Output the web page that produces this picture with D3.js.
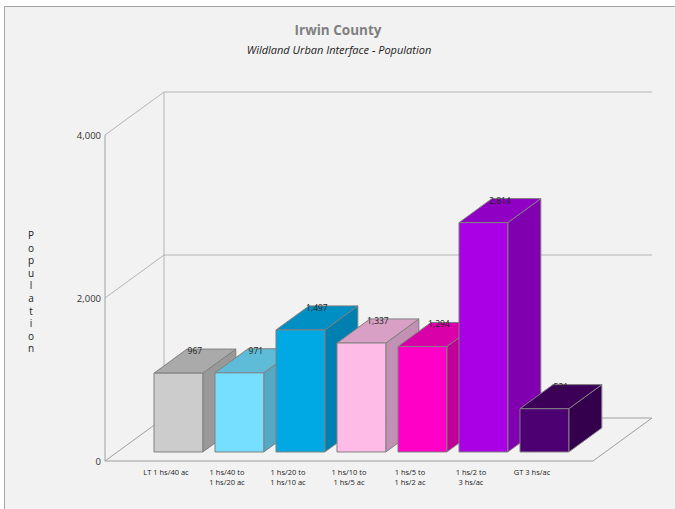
<!DOCTYPE html>
<html>
<head>
<meta charset="utf-8">
<script src="https://cdn.jsdelivr.net/npm/d3@7"></script>
<style>
  body { margin: 0; background: #fff; }
  svg { display: block; font-family: "Open Sans", "Noto Sans", sans-serif; }
</style>
</head>
<body>
<svg id="chart" width="675" height="509"></svg>
<script>
'use strict'

const categories = ['LT 1 hs/40 ac', '1 hs/40 to|1 hs/20 ac', '1 hs/20 to|1 hs/10 ac',
  '1 hs/10 to|1 hs/5 ac', '1 hs/5 to|1 hs/2 ac', '1 hs/2 to|3 hs/ac', 'GT 3 hs/ac']
const population = [967, 971, 1497, 1337, 1294, 2814, 531]
const valueLabels = ['967', '971', '1,497', '1,337', '1,294', '2,814', '531']
const yTicks = [0, 2000, 4000]
const tickLabels = ['0', '2,000', '4,000']
// front, top, side colours per bar
const frontColors = ['#cccccc', '#76defe', '#00a8e4', '#ffbbe7', '#ff00c6', '#a900e6', '#4c0072']
const topColors = ['#aaaaaa', '#5fbcd8', '#008fc3', '#d9a0c6', '#da00a9', '#9000c4', '#3c0059']
const sideColors = ['#999999', '#55a9c4', '#0080b0', '#c290b3', '#c10097', '#8000b0', '#34004e']

const svg = d3.select('#chart')

// frame
svg.append('rect').attr('x', 4.5).attr('y', 6.5).attr('width', 680).attr('height', 520)
  .attr('fill', '#f2f2f2').attr('stroke', '#a6a6a6')

// projection: depth offset for the back wall
const DX = 59
const DY = -43
const x = d3.scaleBand().domain(categories).range([105, 593]).paddingInner(0.2).paddingOuter(0.6)
const y = d3.scaleLinear().domain([0, 4000]).range([461, 135])
const proj = (px, v, f) => [px + DX * f, y(v) + DY * f]
const line = d3.line()

const grid = svg.append('g').attr('fill', 'none')
// back wall gridlines and left wall diagonals
yTicks.forEach(t => {
  grid.append('path').attr('d', line([proj(105, t, 0), proj(105, t, 1), proj(593, t, 1)]))
    .attr('stroke', t === 0 ? '#a0a0a0' : '#b4b4b4').attr('stroke-width', 1)
})
grid.append('path').attr('d', line([proj(105, 0, 1), proj(105, 4000, 1)]))
  .attr('stroke', '#b4b4b4')
// floor front and right edge, front axis
grid.append('path').attr('d', line([proj(105, 0, 0), proj(593, 0, 0), proj(593, 0, 1)]))
  .attr('stroke', '#a0a0a0')
grid.append('path').attr('d', line([proj(105, 4000, 0), proj(105, 0, 0)]))
  .attr('stroke', '#a0a0a0')

// tick labels
svg.append('g').selectAll('text').data(yTicks).join('text')
  .attr('x', 101).attr('y', d => y(d) + 3.5)
  .attr('text-anchor', 'end').attr('font-size', 9.5).attr('fill', '#333')
  .text((d, i) => tickLabels[i])

// axis title, stacked letters
svg.append('g').selectAll('text').data('Population'.split('')).join('text')
  .attr('x', 31).attr('y', (d, i) => 239 + i * 12.6)
  .attr('text-anchor', 'middle').attr('font-size', 10).attr('fill', '#222')
  .text(d => d)

// bars
const f0 = 0.21
const f1 = 0.77
const bars = svg.append('g').attr('stroke', '#808080').attr('stroke-width', 1).attr('stroke-linejoin', 'round')
categories.forEach((c, i) => {
  const x0 = x(c)
  const x1 = x0 + x.bandwidth()
  const v = population[i]
  const g = bars.append('g')
  g.append('path').attr('fill', sideColors[i])
    .attr('d', line([proj(x1, 0, f0), proj(x1, 0, f1), proj(x1, v, f1), proj(x1, v, f0)]) + 'Z')
  g.append('path').attr('fill', topColors[i])
    .attr('d', line([proj(x0, v, f0), proj(x1, v, f0), proj(x1, v, f1), proj(x0, v, f1)]) + 'Z')
  g.append('path').attr('fill', frontColors[i])
    .attr('d', line([proj(x0, 0, f0), proj(x1, 0, f0), proj(x1, v, f0), proj(x0, v, f0)]) + 'Z')
})

// value labels
svg.append('g').selectAll('text').data(population).join('text')
  .attr('x', (d, i) => proj(x(categories[i]) + x.bandwidth() / 2, d, (f0 + f1) / 2)[0])
  .attr('y', d => proj(0, d, f1)[1] + 5)
  .attr('text-anchor', 'middle').attr('font-size', 8.5).attr('fill', '#222')
  .text((d, i) => valueLabels[i])

// category labels
const cat = svg.append('g').selectAll('text').data(categories).join('text')
  .attr('text-anchor', 'middle').attr('font-size', 7.5).attr('fill', '#222')
cat.each(function (c) {
  const cx = x(c) + x.bandwidth() / 2
  c.split('|').forEach((s, j) => {
    d3.select(this).append('tspan').attr('x', cx).attr('y', 475 + j * 9.5).text(s)
  })
})

// titles
svg.append('text').attr('x', 338).attr('y', 35).attr('text-anchor', 'middle')
  .attr('font-size', 13.5).attr('font-weight', 'bold').attr('fill', '#7f7f7f').text('Irwin County')
svg.append('text').attr('x', 339).attr('y', 54).attr('text-anchor', 'middle')
  .attr('font-size', 11).attr('font-style', 'italic').attr('fill', '#222')
  .text('Wildland Urban Interface - Population')
</script>
</body>
</html>
